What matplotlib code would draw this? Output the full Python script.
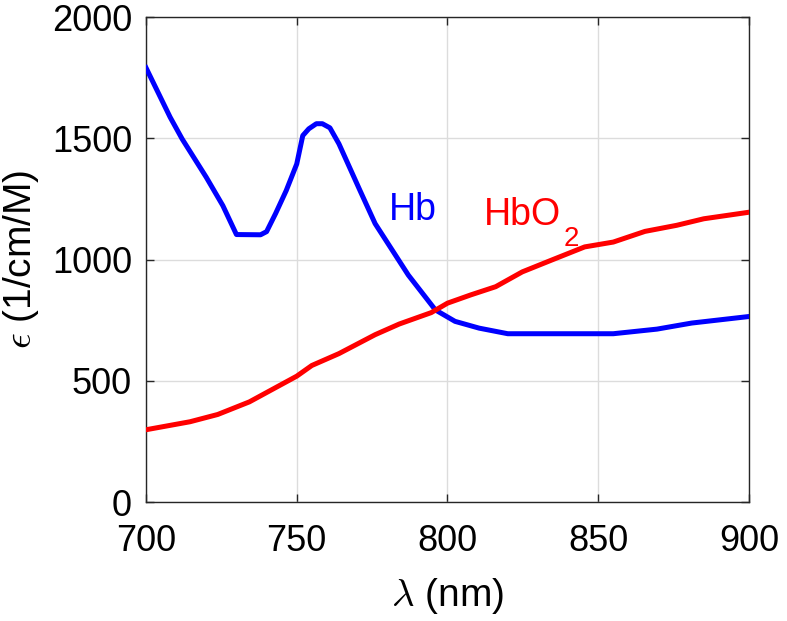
import matplotlib
matplotlib.use("Agg")
import matplotlib.pyplot as plt

plt.rcParams['font.family'] = ['Liberation Sans', 'DejaVu Sans']
plt.rcParams['mathtext.fontset'] = 'custom'
plt.rcParams['mathtext.rm'] = 'Liberation Sans'
plt.rcParams['mathtext.it'] = 'Liberation Sans:italic'
plt.rcParams['mathtext.fallback'] = 'cm'

# Data
hb_wl = [700, 708, 712, 720, 725.5, 730, 738, 740, 743, 746.5, 750, 752, 754, 756.5,
         758.5, 761, 764, 771, 776, 787, 796, 802.5, 810.5, 820, 855, 869.5, 881, 900]
hb_eps = [1791, 1587, 1497, 1339, 1222, 1103, 1102, 1115, 1190, 1284, 1394, 1511, 1539, 1560,
          1560, 1543, 1477, 1284, 1148, 936, 792, 745, 717, 694, 694, 713, 738, 765]

hbo2_wl = [700, 714.6, 723.8, 734.3, 742, 750, 755, 764, 776, 784, 794.6, 800, 807.7, 816,
           824.8, 835, 845.5, 855, 865.5, 876, 885, 900]
hbo2_eps = [298, 331, 361, 413, 465, 519, 563, 612, 690, 734, 781, 820, 854, 888,
            949, 1000, 1052, 1072, 1116, 1141, 1168, 1195]

xticks = [700, 750, 800, 850, 900]
yticks = [0, 500, 1000, 1500, 2000]

fig = plt.figure(figsize=(7.87, 6.21), dpi=100)
ax = fig.add_axes([0.1855, 0.1916, 0.7662, 0.781])

ax.plot(hb_wl, hb_eps, color='#0000ff', lw=3.6, solid_joinstyle='round', zorder=3)
ax.plot(hbo2_wl, hbo2_eps, color='#ff0000', lw=3.6, solid_joinstyle='round', zorder=3)

ax.set_xlim(700, 900)
ax.set_ylim(0, 2000)
ax.set_xticks(xticks)
ax.set_yticks(yticks)
ax.grid(True, color='#dcdcdc', lw=1.0)
ax.set_axisbelow(True)

for s in ax.spines.values():
    s.set_color('#262626')
    s.set_linewidth(1.0)

ax.tick_params(direction='in', length=6, width=1.0, color='#262626',
               top=True, right=True, labelsize=26, labelcolor='black')
ax.tick_params(axis='x', pad=16)
ax.tick_params(axis='y', pad=10)

ax.set_xlabel(r'$\lambda$ (nm)', fontsize=28, labelpad=12, math_fontfamily='cm')
ax.set_ylabel(r'$\epsilon$ (1/cm/M)', fontsize=28, labelpad=8, math_fontfamily='cm')

ax.text(780.7, 1165, 'Hb', color='#0000ff', fontsize=27, ha='left', va='baseline')
t1 = ax.text(812, 1142, 'HbO', color='#ff0000', fontsize=27, ha='left', va='baseline')
ax.annotate('2', xy=(1, 0), xycoords=t1, xytext=(2, -9), textcoords='offset points',
            color='#ff0000', fontsize=20, ha='left', va='baseline')

fig.savefig('out.png', dpi=100)
